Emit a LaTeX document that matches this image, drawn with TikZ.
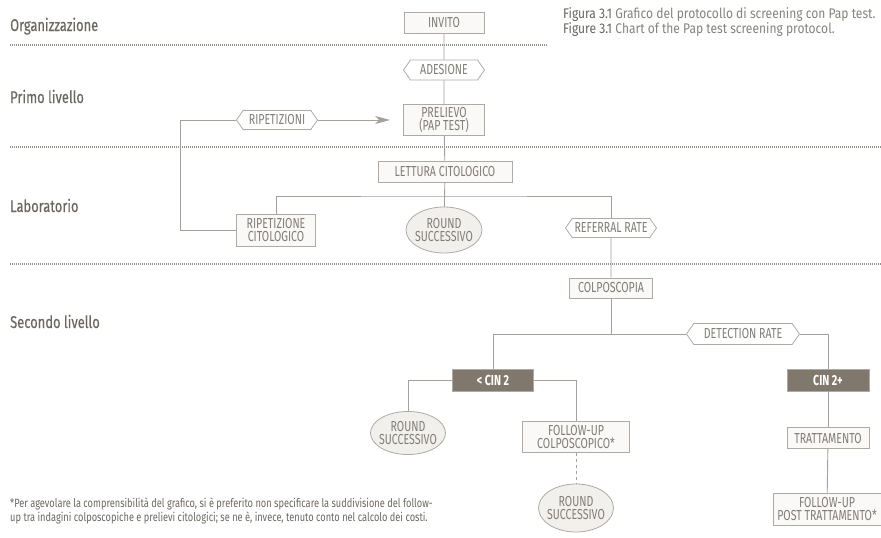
\documentclass[tikz,border=0pt]{standalone}
\usepackage{fontspec}
\setmainfont{Fira Sans}[FakeStretch=0.77]
\newfontfamily\capfam{Fira Sans}[FakeStretch=0.86]
\newfontfamily\boxfam{Fira Sans}[FakeStretch=0.73]
\newfontfamily\labfam{Fira Sans}[FakeStretch=0.76,FakeBold=0.3]
\usetikzlibrary{shapes.geometric,shapes.symbols,arrows.meta}
\definecolor{labtext}{RGB}{108,102,94}
\definecolor{boxtext}{RGB}{130,125,118}
\definecolor{border}{RGB}{175,170,164}
\definecolor{linec}{RGB}{165,160,153}
\definecolor{darkfill}{RGB}{128,120,108}
\definecolor{dotc}{RGB}{150,145,138}
\definecolor{boxfill}{RGB}{250,249,248}
\definecolor{ovalfill}{RGB}{242,240,237}
\definecolor{capdark}{RGB}{105,99,92}
\definecolor{caplight}{RGB}{135,130,123}
\newcommand{\boxfont}{\boxfam\fontsize{14.5}{13}\selectfont}
\tikzset{
  lab/.style={anchor=base west, text=labtext, font=\labfam\fontsize{17}{19}\selectfont, inner sep=0pt},
  sep/.style={draw=dotc, line width=1.6pt, dash pattern=on 1pt off 1pt},
  stepbox/.style={rectangle, draw=border, fill=boxfill, line width=0.8pt, text=boxtext, align=center, inner sep=1pt, font=\boxfont},
  hexbox/.style={signal, signal to=west and east, signal pointer angle=110, draw=border, fill=white, line width=0.8pt, text=boxtext, inner sep=1pt, font=\boxfont},
  oval/.style={ellipse, draw=border, fill=ovalfill, line width=0.8pt, text=boxtext, align=center, inner xsep=-12pt, inner ysep=-9pt, font=\boxfont},
  darkbox/.style={rectangle, draw=border, fill=darkfill, line width=0.8pt, text=white, inner sep=1pt, font=\boxfont\bfseries},
  captxt/.style={anchor=base west, inner sep=0pt, font=\capfam\fontsize{14}{16}\selectfont, text=caplight},
  fntxt/.style={anchor=base west, inner sep=0pt, font=\fontsize{12}{14}\selectfont, text=labtext},
  conn/.style={draw=linec, line width=0.9pt},
}
\begin{document}
\begin{tikzpicture}[x=1pt,y=-1pt]
\useasboundingbox (0,0) rectangle (881,538);
% section labels
\node[lab] (l1) at (10,31) {Organizzazione};
\node[lab] (l2) at (10,103) {Primo livello};
\node[lab] (l3) at (10,212) {Laboratorio};
\node[lab] (l4) at (10,328) {Secondo livello};
% separators
\draw[sep] (10,45) -- (548,45);
\draw[sep] (10,147) -- (881,147);
\draw[sep] (10,264) -- (881,264);
% caption
\node[captxt] (cap1) at (563,18) {\textcolor{capdark}{Figura 3.1} Grafico del protocollo di screening con Pap test.};
\node[captxt] (cap2) at (563,34) {\textcolor{capdark}{Figure 3.1} Chart of the Pap test screening protocol.};
% footnote
\node[fntxt] (fn1) at (10,507) {*Per agevolare la comprensibilità del grafico, si è preferito non specificare la suddivisione del follow-};
\node[fntxt] (fn2) at (10,521) {up tra indagini colposcopiche e prelievi citologici; se ne è, invece, tenuto conto nel calcolo dei costi.};
% nodes
\node[stepbox, minimum width=80pt, minimum height=21pt] (invito) at (444,23) {INVITO};
\node[hexbox, minimum width=81pt, minimum height=20pt] (adesione) at (444,70) {ADESIONE};
\node[stepbox, minimum width=81pt, minimum height=31pt] (prelievo) at (444,120) {PRELIEVO\\(PAP TEST)};
\node[hexbox, minimum width=81pt, minimum height=19pt] (ripetizioni) at (277,120) {RIPETIZIONI};
\node[stepbox, minimum width=134pt, minimum height=21pt] (lettura) at (445,171.5) {LETTURA CITOLOGICO};
\node[stepbox, minimum width=79pt, minimum height=32pt] (ripcit) at (276,230) {RIPETIZIONE\\CITOLOGICO};
\node[oval, minimum width=76pt, minimum height=46pt] (round1) at (444,230) {ROUND\\SUCCESSIVO};
\node[hexbox, minimum width=91pt, minimum height=19pt] (referral) at (611,228) {REFERRAL RATE};
\node[stepbox, minimum width=83pt, minimum height=20pt] (colpo) at (611,288) {COLPOSCOPIA};
\node[hexbox, minimum width=113pt, minimum height=21pt] (detection) at (743,334) {DETECTION RATE};
\node[darkbox, minimum width=81pt, minimum height=22pt] (cin2) at (493,380) {< CIN 2};
\node[darkbox, minimum width=82pt, minimum height=22pt] (cin2p) at (828,380) {CIN 2+};
\node[oval, minimum width=75pt, minimum height=43pt] (round2) at (408,433) {ROUND\\SUCCESSIVO};
\node[stepbox, minimum width=107pt, minimum height=31pt] (fucolpo) at (576,437) {FOLLOW-UP\\COLPOSCOPICO*};
\node[oval, minimum width=75pt, minimum height=48pt] (round3) at (576,508) {ROUND\\SUCCESSIVO};
\node[stepbox, minimum width=82pt, minimum height=21pt] (tratt) at (828,438) {TRATTAMENTO};
\node[stepbox, minimum width=108pt, minimum height=32pt] (fupost) at (827,509) {FOLLOW-UP\\POST TRATTAMENTO*};
% helper coordinates
\coordinate (b1) at (444,196);
\coordinate (rc) at (180,120);
% connectors
\draw[conn] (invito) -- (adesione);
\draw[conn] (adesione) -- (prelievo);
\draw[conn] (prelievo) -- (lettura);
\draw[conn] (lettura) -- (round1);
\draw[conn] (ripcit.north) |- (b1) -| (referral.north);
\draw[conn] (referral) -- (colpo);
\draw[conn] (colpo.south) -- (colpo.south |- detection.center);
\draw[conn] (cin2.north) |- (detection.west);
\draw[conn] (detection.east) -| (cin2p.north);
\draw[conn] (cin2.west) -| (round2.north);
\draw[conn] (cin2.east) -| (fucolpo.north);
\draw[conn, dashed] (fucolpo) -- (round3);
\draw[conn] (cin2p) -- (tratt);
\draw[conn] (tratt) -- (fupost);
\draw[conn] (ripcit.west) -| (rc) -- (ripetizioni.west);
\draw[conn, -{Stealth[length=15pt,width=8pt,inset=4pt]}, shorten >=13pt] (ripetizioni.east) -- (prelievo.west);
\end{tikzpicture}
\end{document}
